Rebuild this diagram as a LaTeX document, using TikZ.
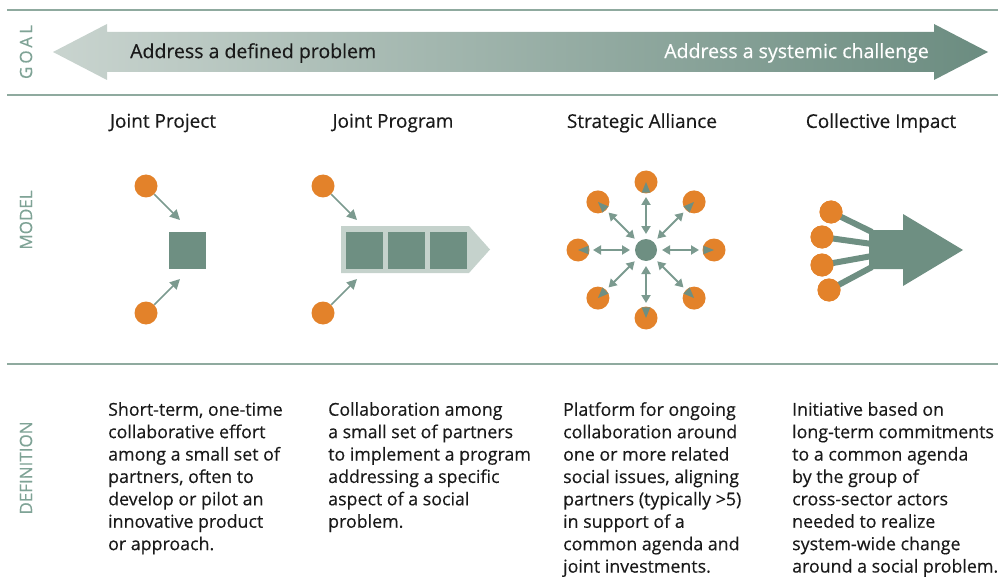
\documentclass[tikz,border=0pt]{standalone}
\usepackage{fontspec}
\setmainfont{Open Sans}[FakeBold=0.35]
\usetikzlibrary{arrows.meta}
\definecolor{sage}{HTML}{6E8F82}
\definecolor{sagelight}{HTML}{C5D2CC}
\definecolor{rulec}{HTML}{8FAA9F}
\definecolor{labelc}{HTML}{7FA396}
\definecolor{dotc}{HTML}{E3822A}
\definecolor{arrc}{HTML}{7B9A8F}
\definecolor{goalL}{HTML}{C9D4CF}
\definecolor{goalM}{HTML}{A2B5AD}
\definecolor{goalR}{HTML}{6B8C80}
\definecolor{txt}{HTML}{1A1A1A}
\begin{document}
\begin{tikzpicture}[x=1pt,y=-1pt,
  rulel/.style={draw=rulec, line width=1.5pt},
  sidelabel/.style={rotate=90, text=labelc, inner sep=0pt, font=\fontsize{17}{20}\selectfont},
  headtext/.style={text=txt, inner sep=0pt, font=\fontsize{19}{22}\selectfont},
  goaltext/.style={inner sep=0pt, font=\fontsize{19.5}{22}\selectfont},
  deftext/.style={text=txt, font=\fontsize{17.8}{22.4}\selectfont, align=left, anchor=north west, inner sep=0pt},
  dotn/.style={circle, fill=dotc, minimum size=23pt, inner sep=0pt},
  arr/.style={draw=arrc, line width=1.5pt, -{Triangle[length=10pt,width=10pt]}},
  darr/.style={draw=arrc, line width=2pt, {Triangle[length=8pt,width=9pt]}-{Triangle[length=8pt,width=9pt]}},
  feed/.style={draw=sage, line width=6pt}
]
\useasboundingbox (0,0) rectangle (998,588);

% rules
\coordinate (r1a) at (7,10);  \coordinate (r1b) at (998,10);
\coordinate (r2a) at (7,95);  \coordinate (r2b) at (998,95);
\coordinate (r3a) at (7,364); \coordinate (r3b) at (998,364);
\draw[rulel] (r1a) -- (r1b);
\draw[rulel] (r2a) -- (r2b);
\draw[rulel] (r3a) -- (r3b);

% side labels
\node[sidelabel] (goal) at (26,52) {\addfontfeature{LetterSpace=18}GOAL};
\node[sidelabel] (model) at (26,220) {MODEL};
\node[sidelabel] (definition) at (26,468) {DEFINITION};

% goal arrow
\shade[left color=goalL, middle color=goalM, right color=goalR]
  (53,52) -- (107,24) -- (107,32) -- (934,32) -- (934,24) -- (988,52)
  -- (934,80) -- (934,72) -- (107,72) -- (107,80) -- cycle;
\node[goaltext, text=txt, anchor=west] (gl) at (130,53) {Address a defined problem};
\node[goaltext, text=white, anchor=east] (gr) at (929,53) {Address a systemic challenge};

% headers
\node[headtext] (h1) at (163,123) {Joint Project};
\node[headtext] (h2) at (393,123) {Joint Program};
\node[headtext] (h3) at (642,123) {Strategic Alliance};
\node[headtext] (h4) at (881,123) {Collective Impact};

% Joint Project
\node[fill=sage, minimum size=37pt, inner sep=0pt] (sq) at (187.5,250) {};
\node[dotn] (jp1) at (146,186) {};
\node[dotn] (jp2) at (146,313) {};
\coordinate (jt1) at (180,220);
\coordinate (jt2) at (180,279);
\draw[arr] (jp1) -- (jt1);
\draw[arr] (jp2) -- (jt2);

% Joint Program
\fill[sagelight] (341,226) -- (469,226) -- (490,249.5) -- (469,273) -- (341,273) -- cycle;
\node[fill=sage, minimum size=37pt, inner sep=0pt] (pb1) at (364.5,250) {};
\node[fill=sage, minimum size=37pt, inner sep=0pt] (pb2) at (406.5,250) {};
\node[fill=sage, minimum size=37pt, inner sep=0pt] (pb3) at (448.5,250) {};
\node[dotn] (pg1) at (323,186) {};
\node[dotn] (pg2) at (323,313) {};
\coordinate (pt1) at (357,220);
\coordinate (pt2) at (357,279);
\draw[arr] (pg1) -- (pt1);
\draw[arr] (pg2) -- (pt2);

% Strategic Alliance
\node[circle, fill=sage, minimum size=22pt, inner sep=0pt] (hub) at (646,250) {};
\foreach \a in {0,45,...,315} {
  \node[dotn] (s\a) at ([shift={(\a:68)}]hub.center) {};
  \fill[sage] (s\a.center) -- ([shift={(\a+158:11.5)}]s\a.center) -- ([shift={(\a+202:11.5)}]s\a.center) -- cycle;
  \coordinate (ai\a) at ([shift={(\a:16)}]hub.center);
  \coordinate (ao\a) at ([shift={(\a:53)}]hub.center);
  \draw[darr] (ai\a) -- (ao\a);
}

% Collective Impact
\coordinate (e1) at (872,232);
\coordinate (e2) at (872,244);
\coordinate (e3) at (872,256);
\coordinate (e4) at (872,267);
\node[dotn] (c1) at (831,212) {};
\node[dotn] (c2) at (822,237) {};
\node[dotn] (c3) at (822,265) {};
\node[dotn] (c4) at (829,290) {};
\draw[feed] (c1.center) -- (e1);
\draw[feed] (c2.center) -- (e2);
\draw[feed] (c3.center) -- (e3);
\draw[feed] (c4.center) -- (e4);
\fill[sage] (869,230) -- (903,230) -- (903,214) -- (963,250) -- (903,286) -- (903,269) -- (869,269) -- cycle;
\node[dotn] at (c1) {};
\node[dotn] at (c2) {};
\node[dotn] at (c3) {};
\node[dotn] at (c4) {};

% definitions
\node[deftext] (d1) at (108,402) {Short-term, one-time\\collaborative effort\\among a small set of\\partners, often to\\develop or pilot an\\innovative product\\or approach.};
\node[deftext] (d2) at (328,402) {Collaboration among\\a small set of partners\\to implement a program\\addressing a specific\\aspect of a social\\problem.};
\node[deftext] (d3) at (563,402) {Platform for ongoing\\collaboration around\\one or more related\\social issues, aligning\\partners (typically >5)\\in support of a\\common agenda and\\joint investments.};
\node[deftext] (d4) at (792,402) {Initiative based on\\long-term commitments\\to a common agenda\\by the group of\\cross-sector actors\\needed to realize\\system-wide change\\around a social problem.};
\end{tikzpicture}
\end{document}
